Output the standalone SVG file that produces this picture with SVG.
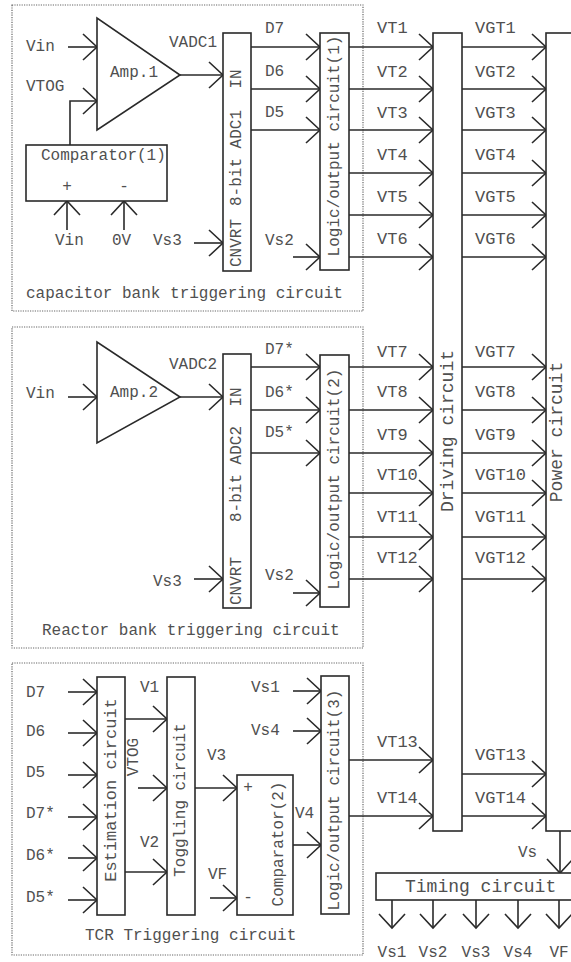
<svg xmlns="http://www.w3.org/2000/svg" width="571" height="962" viewBox="0 0 571 962">
<style>
.ln{stroke:#2a2a2a;stroke-width:1.6;fill:none}
.bx{stroke:#2a2a2a;stroke-width:1.6;fill:#fff}
.dot{stroke:#666;stroke-width:1.2;stroke-dasharray:1.2 1.2;fill:none}
text{font-family:"Liberation Mono","DejaVu Sans Mono",monospace;font-size:16px;fill:#505050}
.l17{font-size:17px}
.l18{font-size:18px}
.r{text-anchor:middle;dominant-baseline:central}
.a{marker-end:url(#ah)}
</style>
<defs>
<marker id="ah" viewBox="-16 -16 18 32" refX="0" refY="0" markerWidth="18" markerHeight="32" markerUnits="userSpaceOnUse" orient="auto">
<path d="M-14,-13 L0,0 L-14,13" fill="none" stroke="#2a2a2a" stroke-width="1.6"/>
</marker>
</defs>
<rect width="571" height="962" fill="#fff"/>

<g id="frames">
<rect class="dot" x="12" y="5" width="351" height="306"/>
<rect class="dot" x="12" y="327" width="351" height="321"/>
<rect class="dot" x="12" y="663" width="351" height="292"/>
<text x="26" y="298">capacitor bank triggering circuit</text>
<text x="42" y="635">Reactor bank triggering circuit</text>
<text x="85" y="940">TCR Triggering circuit</text>
</g>

<g id="connectors">
<line class="ln a" x1="68" y1="47" x2="97" y2="47"/>
<polyline class="ln a" points="70,145 70,101 97,101"/>
<line class="ln a" x1="67" y1="230" x2="67" y2="201"/>
<line class="ln a" x1="124" y1="230" x2="124" y2="201"/>
<line class="ln a" x1="180" y1="75" x2="223" y2="75"/>
<line class="ln a" x1="194" y1="243" x2="223" y2="243"/>
<line class="ln a" x1="251" y1="47" x2="320" y2="47"/>
<line class="ln a" x1="251" y1="89" x2="320" y2="89"/>
<line class="ln a" x1="251" y1="130" x2="320" y2="130"/>
<line class="ln a" x1="293" y1="257" x2="320" y2="257"/>
<line class="ln a" x1="349" y1="47" x2="433" y2="47"/>
<line class="ln a" x1="349" y1="89" x2="433" y2="89"/>
<line class="ln a" x1="349" y1="130" x2="433" y2="130"/>
<line class="ln a" x1="349" y1="173" x2="433" y2="173"/>
<line class="ln a" x1="349" y1="215" x2="433" y2="215"/>
<line class="ln a" x1="349" y1="257" x2="433" y2="257"/>
<line class="ln a" x1="462" y1="47" x2="546" y2="47"/>
<line class="ln a" x1="462" y1="89" x2="546" y2="89"/>
<line class="ln a" x1="462" y1="130" x2="546" y2="130"/>
<line class="ln a" x1="462" y1="173" x2="546" y2="173"/>
<line class="ln a" x1="462" y1="215" x2="546" y2="215"/>
<line class="ln a" x1="462" y1="257" x2="546" y2="257"/>
<line class="ln a" x1="68" y1="397" x2="97" y2="397"/>
<line class="ln a" x1="180" y1="397" x2="223" y2="397"/>
<line class="ln a" x1="194" y1="579" x2="223" y2="579"/>
<line class="ln a" x1="251" y1="367" x2="320" y2="367"/>
<line class="ln a" x1="251" y1="410" x2="320" y2="410"/>
<line class="ln a" x1="251" y1="453" x2="320" y2="453"/>
<line class="ln a" x1="293" y1="593" x2="320" y2="593"/>
<line class="ln a" x1="349" y1="367" x2="433" y2="367"/>
<line class="ln a" x1="349" y1="410" x2="433" y2="410"/>
<line class="ln a" x1="349" y1="453" x2="433" y2="453"/>
<line class="ln a" x1="349" y1="493" x2="433" y2="493"/>
<line class="ln a" x1="349" y1="537" x2="433" y2="537"/>
<line class="ln a" x1="349" y1="579" x2="433" y2="579"/>
<line class="ln a" x1="462" y1="367" x2="546" y2="367"/>
<line class="ln a" x1="462" y1="410" x2="546" y2="410"/>
<line class="ln a" x1="462" y1="453" x2="546" y2="453"/>
<line class="ln a" x1="462" y1="493" x2="546" y2="493"/>
<line class="ln a" x1="462" y1="537" x2="546" y2="537"/>
<line class="ln a" x1="462" y1="579" x2="546" y2="579"/>
<line class="ln a" x1="68" y1="692" x2="97" y2="692"/>
<line class="ln a" x1="68" y1="733" x2="97" y2="733"/>
<line class="ln a" x1="68" y1="775" x2="97" y2="775"/>
<line class="ln a" x1="68" y1="817" x2="97" y2="817"/>
<line class="ln a" x1="68" y1="858" x2="97" y2="858"/>
<line class="ln a" x1="68" y1="900" x2="97" y2="900"/>
<line class="ln a" x1="125" y1="719" x2="167" y2="719"/>
<line class="ln a" x1="125" y1="872" x2="167" y2="872"/>
<line class="ln a" x1="138" y1="788" x2="167" y2="788"/>
<line class="ln a" x1="195" y1="788" x2="237" y2="788"/>
<line class="ln a" x1="210" y1="898" x2="237" y2="898"/>
<line class="ln a" x1="293" y1="845" x2="321" y2="845"/>
<line class="ln a" x1="293" y1="691" x2="321" y2="691"/>
<line class="ln a" x1="293" y1="731" x2="321" y2="731"/>
<line class="ln a" x1="349" y1="760" x2="433" y2="760"/>
<line class="ln a" x1="349" y1="816" x2="433" y2="816"/>
<line class="ln a" x1="462" y1="774" x2="546" y2="774"/>
<line class="ln a" x1="462" y1="816" x2="546" y2="816"/>
<line class="ln a" x1="560" y1="831" x2="560" y2="873"/>
<line class="ln a" x1="392" y1="900" x2="392" y2="928"/>
<line class="ln a" x1="433" y1="900" x2="433" y2="928"/>
<line class="ln a" x1="476" y1="900" x2="476" y2="928"/>
<line class="ln a" x1="518" y1="900" x2="518" y2="928"/>
<line class="ln a" x1="559" y1="900" x2="559" y2="928"/>
</g>

<g id="amp1">
<polygon class="bx" points="97,18 97,130 180,75"/>
<text x="110" y="77">Amp.1</text>
</g>
<g id="comparator1">
<rect class="bx" x="26" y="145" width="141" height="56"/>
<text x="41" y="160">Comparator(1)</text>
<text x="67" y="187" class="r">+</text>
<text x="124" y="187" class="r">-</text>
</g>
<g id="adc1">
<rect class="bx" x="223" y="33" width="28" height="238"/>
<text class="r" transform="translate(237,79) rotate(-90)">IN</text>
<text class="r" transform="translate(237,158) rotate(-90)">8-bit ADC1</text>
<text class="r" transform="translate(237,243) rotate(-90)">CNVRT</text>
</g>
<g id="logic1">
<rect class="bx" x="320" y="33" width="29" height="237"/>
<text class="r" transform="translate(335,146) rotate(-90)">Logic/output circuit(1)</text>
</g>
<g id="amp2">
<polygon class="bx" points="97,342 97,443 180,397"/>
<text x="110" y="397">Amp.2</text>
</g>
<g id="adc2">
<rect class="bx" x="223" y="354" width="28" height="254"/>
<text class="r" transform="translate(237,397) rotate(-90)">IN</text>
<text class="r" transform="translate(237,474) rotate(-90)">8-bit ADC2</text>
<text class="r" transform="translate(237,581) rotate(-90)">CNVRT</text>
</g>
<g id="logic2">
<rect class="bx" x="320" y="355" width="29" height="252"/>
<text class="r" transform="translate(335,479) rotate(-90)">Logic/output circuit(2)</text>
</g>
<g id="estimation">
<rect class="bx" x="97" y="677" width="28" height="238"/>
<text class="r l17" transform="translate(111,790) rotate(-90)">Estimation circuit</text>
</g>
<g id="toggling">
<rect class="bx" x="167" y="677" width="28" height="238"/>
<text class="r" transform="translate(181,800) rotate(-90)">Toggling circuit</text>
</g>
<g id="comparator2">
<rect class="bx" x="237" y="775" width="56" height="140"/>
<text class="r" x="248" y="788">+</text>
<text class="r" x="248" y="898">-</text>
<text class="r" transform="translate(279,844) rotate(-90)">Comparator(2)</text>
</g>
<g id="logic3">
<rect class="bx" x="321" y="676" width="28" height="238"/>
<text class="r" transform="translate(335,800) rotate(-90)">Logic/output circuit(3)</text>
</g>
<g id="driving">
<rect class="bx" x="433" y="33" width="29" height="798"/>
<text class="r l18" transform="translate(448,431) rotate(-90)">Driving circuit</text>
</g>
<g id="power">
<rect class="bx" x="546" y="33" width="40" height="798"/>
<text class="r l18" transform="translate(557,432) rotate(-90)">Power circuit</text>
</g>
<g id="timing">
<rect class="bx" x="376" y="873" width="210" height="27"/>
<text class="l18" x="405" y="887" dominant-baseline="central">Timing circuit</text>
</g>

<g id="labels">
<text x="26" y="51">Vin</text>
<text x="26" y="91">VTOG</text>
<text x="55" y="245">Vin</text>
<text x="112" y="245">0V</text>
<text x="153" y="245">Vs3</text>
<text x="169" y="47">VADC1</text>
<text x="265" y="33">D7</text>
<text x="265" y="76">D6</text>
<text x="265" y="117">D5</text>
<text x="265" y="245">Vs2</text>
<text class="l17" x="377" y="33">VT1</text>
<text class="l17" x="377" y="77">VT2</text>
<text class="l17" x="377" y="118">VT3</text>
<text class="l17" x="377" y="160">VT4</text>
<text class="l17" x="377" y="202">VT5</text>
<text class="l17" x="377" y="244">VT6</text>
<text class="l17" x="475" y="33">VGT1</text>
<text class="l17" x="475" y="77">VGT2</text>
<text class="l17" x="475" y="118">VGT3</text>
<text class="l17" x="475" y="160">VGT4</text>
<text class="l17" x="475" y="202">VGT5</text>
<text class="l17" x="475" y="244">VGT6</text>
<text x="26" y="398">Vin</text>
<text x="169" y="369">VADC2</text>
<text x="153" y="586">Vs3</text>
<text x="265" y="354">D7*</text>
<text x="265" y="397">D6*</text>
<text x="265" y="437">D5*</text>
<text x="265" y="580">Vs2</text>
<text class="l17" x="377" y="357">VT7</text>
<text class="l17" x="377" y="397">VT8</text>
<text class="l17" x="377" y="440">VT9</text>
<text class="l17" x="377" y="480">VT10</text>
<text class="l17" x="377" y="522">VT11</text>
<text class="l17" x="377" y="563">VT12</text>
<text class="l17" x="475" y="357">VGT7</text>
<text class="l17" x="475" y="397">VGT8</text>
<text class="l17" x="475" y="440">VGT9</text>
<text class="l17" x="475" y="480">VGT10</text>
<text class="l17" x="475" y="522">VGT11</text>
<text class="l17" x="475" y="563">VGT12</text>
<text x="26" y="697">D7</text>
<text x="26" y="736">D6</text>
<text x="26" y="777">D5</text>
<text x="26" y="818">D7*</text>
<text x="26" y="860">D6*</text>
<text x="26" y="902">D5*</text>
<text x="140" y="692">V1</text>
<text x="140" y="847">V2</text>
<text class="r" transform="translate(134,757) rotate(-90)">VTOG</text>
<text x="207" y="760">V3</text>
<text x="208" y="879">VF</text>
<text x="295" y="818">V4</text>
<text x="251" y="692">Vs1</text>
<text x="251" y="735">Vs4</text>
<text class="l17" x="377" y="747">VT13</text>
<text class="l17" x="377" y="803">VT14</text>
<text class="l17" x="475" y="760">VGT13</text>
<text class="l17" x="475" y="803">VGT14</text>
<text x="518" y="857">Vs</text>
<text x="392" y="957" text-anchor="middle">Vs1</text>
<text x="433" y="957" text-anchor="middle">Vs2</text>
<text x="476" y="957" text-anchor="middle">Vs3</text>
<text x="518" y="957" text-anchor="middle">Vs4</text>
<text x="559" y="957" text-anchor="middle">VF</text>
</g>
</svg>
